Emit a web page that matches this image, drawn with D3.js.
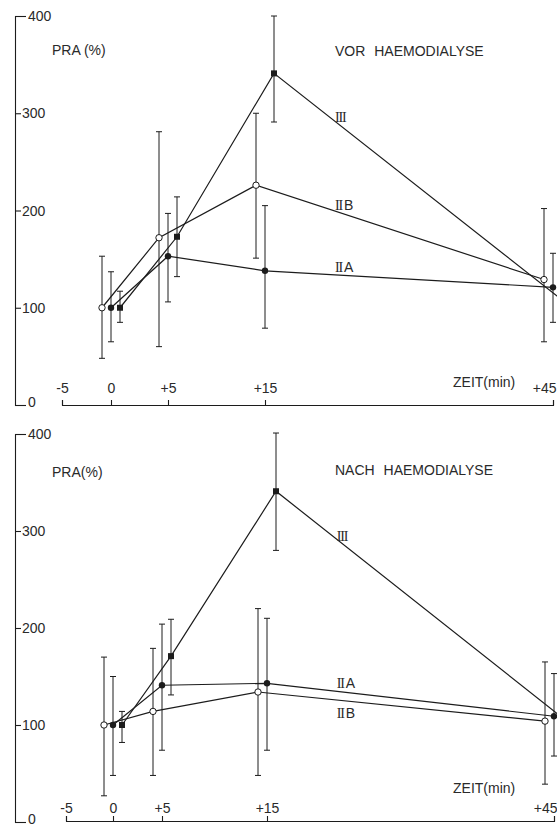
<!DOCTYPE html>
<html lang="de">
<head>
    <meta charset="UTF-8">
    <title>PRA vor / nach Haemodialyse</title>
    <script src="https://d3js.org/d3.v7.min.js"></script>
    <style>
        body{
            margin: 0;
            background: #fff;
        }
        text{
            font-family: "Liberation Sans", Arial, sans-serif;
            font-size: 14px;
            fill: #2a2a2a;
        }
        .roman{
            font-family: "Liberation Serif", serif;
            font-size: 14px;
            letter-spacing: -1.2px;
        }
    </style>
</head>
<body>
    <script>
        //DATA
        const times = [0, 5, 15, 45];
        const timeTicks = [-5, 0, 5, 15, 45];
        const timeLabels = ["-5", "0", "+5", "+15", "+45"];
        const praTicks = [0, 100, 200, 300, 400];
        const groups = ["IIA", "IIB", "III"];

        //VOR HAEMODIALYSE
        const vorIIA = [100, 153, 138, 121];
        const vorIIAlow = [65, 106, 79, 85];
        const vorIIAhigh = [137, 197, 205, 156];
        const vorIIB = [100, 172, 226, 129];
        const vorIIBlow = [48, 60, 151, 65];
        const vorIIBhigh = [153, 281, 300, 202];
        const vorIII = [100, 173, 341, 108];
        const vorIIIlow = [85, 132, 291, 89];
        const vorIIIhigh = [117, 214, 400, 137];

        //NACH HAEMODIALYSE
        const nachIIA = [100, 141, 143, 109];
        const nachIIAlow = [48, 74, 74, 68];
        const nachIIAhigh = [150, 204, 210, 153];
        const nachIIB = [100, 114, 134, 104];
        const nachIIBlow = [27, 48, 48, 39];
        const nachIIBhigh = [170, 179, 220, 165];
        const nachIII = [100, 171, 341, 107];
        const nachIIIlow = [82, 131, 280, 85];
        const nachIIIhigh = [114, 209, 401, 130];

        //BUILD ROWS PER SERIES
        function makeSeries(vals, low, high){
            return times.map((t, i) => ({t: t, v: vals[i], lo: low[i], hi: high[i]}));
        }

        const panels = [
            {
                title: "VOR HAEMODIALYSE", pra: "PRA (%)",
                yRange: [405, 16], xRange: [62, 111, 168, 265, 553],
                axisY: 405, tickPad: 7, titleY: 56, praY: 55, zeitY: 387,
                series: {
                    IIA: makeSeries(vorIIA, vorIIAlow, vorIIAhigh),
                    IIB: makeSeries(vorIIB, vorIIBlow, vorIIBhigh),
                    III: makeSeries(vorIII, vorIIIlow, vorIIIhigh)
                },
                labels: [["III", "", 291], ["II", "B", 201], ["II", "A", 137]]
            },
            {
                title: "NACH HAEMODIALYSE", pra: "PRA(%)",
                yRange: [822, 434], xRange: [66, 113, 162, 267, 554],
                axisY: 821, tickPad: 3, titleY: 475, praY: 477, zeitY: 793,
                series: {
                    IIA: makeSeries(nachIIA, nachIIAlow, nachIIAhigh),
                    IIB: makeSeries(nachIIB, nachIIBlow, nachIIBhigh),
                    III: makeSeries(nachIII, nachIIIlow, nachIIIhigh)
                },
                labels: [["III", "", 290], ["II", "A", 138], ["II", "B", 107]]
            }
        ];

        //CONSTANTS
        const width = 557;
        const height = 829;
        const ink = "#1c1c1c";
        const offset = {IIB: -9, IIA: 0, III: 9}; //points are staggered in each time slot

        const svg = d3.select("body")
                    .append("svg")
                    .attr("width", width)
                    .attr("height", height);

        panels.forEach(p => {
            const g = svg.append("g");

            //SCALES - TIME AXIS IS NOT LINEAR IN THE ORIGINAL, SO PIECEWISE
            const x = d3.scaleLinear().domain(timeTicks).range(p.xRange);
            const y = d3.scaleLinear().domain([0, 400]).range(p.yRange);

            //Y AXIS - BRACKET WITH TICKS TO THE RIGHT
            const yAxis = g.append("g")
                .attr("transform", "translate(15,0)")
                .call(d3.axisRight(y).tickValues(praTicks).tickSize(6).tickSizeOuter(11).tickPadding(1));
            yAxis.selectAll(".tick text")
                .attr("x", d => (d === 0 || d === 400) ? 13 : 7)
                .attr("dy", d => d === 0 ? "0.12em" : "0.33em");
            yAxis.selectAll(".tick line").attr("x2", d => (d === 0 || d === 400) ? 11 : 6);

            //X AXIS - TICKS POINT UP, LABELS ABOVE
            const xAxis = g.append("g")
                .attr("transform", "translate(0," + p.axisY + ")")
                .call(d3.axisTop(x).tickValues(timeTicks).tickFormat((d, i) => timeLabels[i])
                    .tickSize(5).tickSizeOuter(5).tickPadding(p.tickPad));
            //LAST LABEL SITS LEFT OF ITS TICK AT THE PAGE EDGE
            xAxis.selectAll(".tick text")
                .filter(d => d === 45)
                .attr("text-anchor", "end")
                .attr("x", 3);

            svg.selectAll(".domain, .tick line").attr("stroke", ink).attr("stroke-width", 1.1);
            svg.selectAll(".tick text").attr("fill", "#2a2a2a").style("font-size", "14px")
                .style("font-family", "'Liberation Sans', Arial, sans-serif");

            //ERROR BARS
            groups.forEach(k => {
                const px = d => x(d.t) + offset[k];
                const eb = g.selectAll(".eb" + k).data(p.series[k]).enter().append("g")
                    .attr("stroke", ink).attr("stroke-width", 1);
                eb.append("line").attr("x1", px).attr("x2", px)
                    .attr("y1", d => y(d.lo)).attr("y2", d => y(d.hi));
                eb.append("line").attr("x1", d => px(d) - 3).attr("x2", d => px(d) + 3)
                    .attr("y1", d => y(d.hi)).attr("y2", d => y(d.hi));
                eb.append("line").attr("x1", d => px(d) - 3).attr("x2", d => px(d) + 3)
                    .attr("y1", d => y(d.lo)).attr("y2", d => y(d.lo));
            });

            //LINES
            groups.forEach(k => {
                const line = d3.line().x(d => x(d.t) + offset[k]).y(d => y(d.v));
                g.append("path")
                    .datum(p.series[k])
                    .attr("fill", "none")
                    .attr("stroke", ink)
                    .attr("stroke-width", 1.2)
                    .attr("d", line);
            });

            //MARKERS
            g.selectAll(".mIIA").data(p.series.IIA).enter().append("circle")
                .attr("cx", d => x(d.t) + offset.IIA).attr("cy", d => y(d.v))
                .attr("r", 3.2).attr("fill", ink);
            g.selectAll(".mIIB").data(p.series.IIB).enter().append("circle")
                .attr("cx", d => x(d.t) + offset.IIB).attr("cy", d => y(d.v))
                .attr("r", 3.2).attr("fill", "#fff").attr("stroke", ink).attr("stroke-width", 1);
            g.selectAll(".mIII").data(p.series.III).enter().append("rect")
                .attr("x", d => x(d.t) + offset.III - 3).attr("y", d => y(d.v) - 3)
                .attr("width", 6).attr("height", 6).attr("fill", ink);

            //SERIES LABELS
            p.labels.forEach(l => {
                const t = g.append("text")
                    .attr("x", x(22.3))
                    .attr("y", y(l[2]));
                t.append("tspan").attr("class", "roman").text(l[0]);
                if (l[1]) t.append("tspan").attr("dx", 2).text(l[1]);
            });

            //TEXTS
            g.append("text").attr("x", 52).attr("y", p.praY).text(p.pra);
            g.append("text").attr("x", 335).attr("y", p.titleY)
                .attr("word-spacing", 5).text(p.title);
            g.append("text").attr("x", 453).attr("y", p.zeitY).text("ZEIT(min)");
        });
    </script>
</body>
</html>
